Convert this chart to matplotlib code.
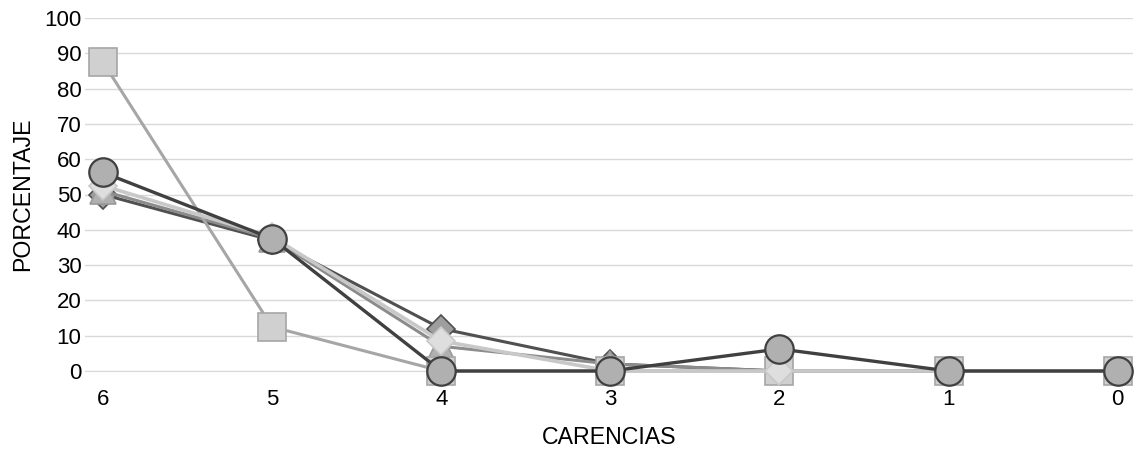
import matplotlib
matplotlib.use("Agg")
import matplotlib.pyplot as plt

plt.rcParams["font.family"] = ["Liberation Sans", "DejaVu Sans"]

categories = ["6", "5", "4", "3", "2", "1", "0"]
s_diamond_dark = [50, 37, 12, 2, 0, 0, 0]
s_triangle = [51, 37.5, 7, 2, 0, 0, 0]
s_diamond_light = [52.5, 38, 8.5, 0, 0, 0, 0]
s_square = [87.5, 12.5, 0, 0, 0, 0, 0]
s_circle = [56.25, 37.5, 0, 0, 6.25, 0, 0]
yticks = [0, 10, 20, 30, 40, 50, 60, 70, 80, 90, 100]

fig = plt.figure(figsize=(11.35, 4.49), dpi=100)
ax = fig.add_axes([85/1135, 1 - 371/449, (1133-85)/1135, (371-18)/449])

x = list(range(len(categories)))
ms = 19.5
ax.plot(x, s_diamond_dark, color="#505050", lw=2.2, marker="D", ms=ms*0.75,
        mfc="#9e9e9e", mec="#505050", mew=1.2, clip_on=False, zorder=3)
ax.plot(x, s_triangle, color="#8c8c8c", lw=2.2, marker="^", ms=ms*0.95,
        mfc="#b0b0b0", mec="#9a9a9a", mew=1.2, clip_on=False, zorder=3)
ax.plot(x, s_diamond_light, color="#c8c8c8", lw=2.6, marker="D", ms=ms*0.75,
        mfc="#dedede", mec="#c8c8c8", mew=1.2, clip_on=False, zorder=4)
ax.plot(x, s_square, color="#a6a6a6", lw=2.2, marker="s", ms=ms,
        mfc="#d0d0d0", mec="#a6a6a6", mew=1.2, clip_on=False, zorder=3)
ax.plot(x, s_circle, color="#404040", lw=2.4, marker="o", ms=ms*1.05,
        mfc="#b0b0b0", mec="#404040", mew=1.6, clip_on=False, zorder=5)

ax.set_xlim(-0.106, 6.09)
ax.set_ylim(0, 100)
ax.set_yticks(yticks)
ax.set_xticks(x)
ax.set_xticklabels(categories)
ax.grid(axis="y", color="#d9d9d9", lw=1)
ax.set_axisbelow(True)
for s in ["top", "right", "left"]:
    ax.spines[s].set_visible(False)
ax.spines["bottom"].set_color("#d9d9d9")
ax.tick_params(length=0, labelsize=16, colors="#000000")
ax.tick_params(axis="y", pad=2.5)
ax.tick_params(axis="x", pad=13)
ax.set_xlabel("CARENCIAS", fontsize=16.7)
ax.set_ylabel("PORCENTAJE", fontsize=16.7)
ax.xaxis.set_label_coords(0.5, -(437.5 - 371) / 353, transform=ax.transAxes)
ax.xaxis.label.set_va("center")
ax.yaxis.set_label_coords(-(85 - 23) / 1048, 0.5, transform=ax.transAxes)
ax.yaxis.label.set_va("center")

fig.savefig("out.png", dpi=100)
